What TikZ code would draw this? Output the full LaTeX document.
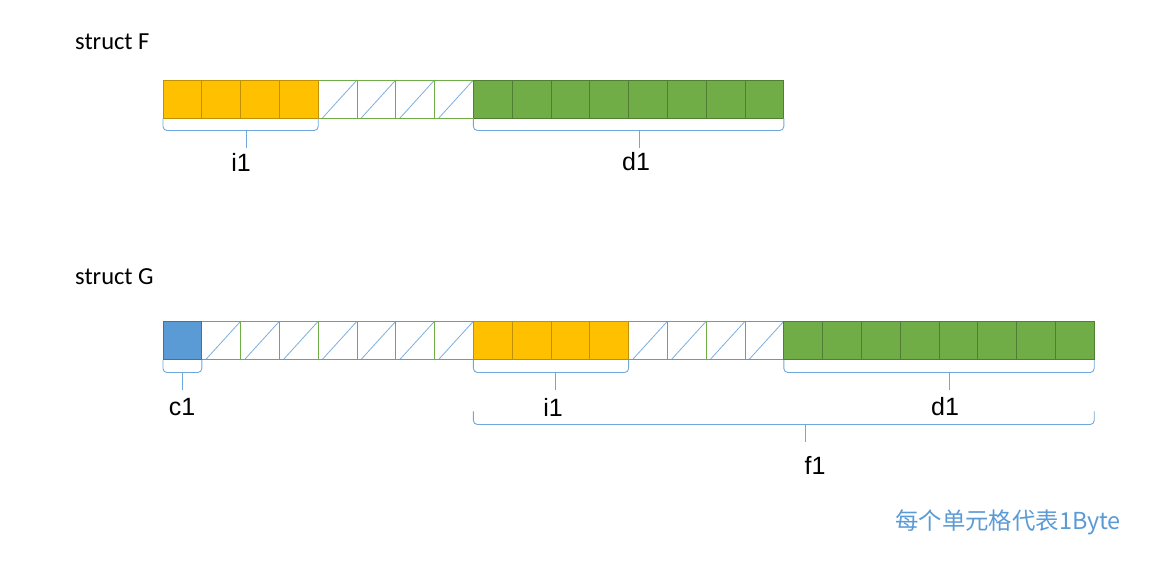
\documentclass[tikz,border=0pt]{standalone}
\usepackage{fontspec}
\setmainfont{Carlito}
\newfontfamily\labelfont{Liberation Sans}
\newfontfamily\cjkfont{Noto Sans CJK SC}
\usetikzlibrary{positioning,calc}

\definecolor{intfill}{HTML}{FFC000}
\definecolor{intline}{HTML}{BF9000}
\definecolor{dblfill}{HTML}{70AD47}
\definecolor{dblline}{HTML}{507E32}
\definecolor{chrfill}{HTML}{5B9BD5}
\definecolor{chrline}{HTML}{41719C}
\definecolor{bracecol}{HTML}{6FA8DC}
\definecolor{notecol}{HTML}{5B9BD5}

\begin{document}
\begin{tikzpicture}[x=1pt,y=-1pt,
  cell/.style={draw, minimum width=38.8pt, minimum height=38.5pt, inner sep=0pt, outer sep=0pt, line width=0.8pt},
  intcell/.style={cell, fill=intfill, draw=intline},
  dblcell/.style={cell, fill=dblfill, draw=dblline},
  chrcell/.style={cell, fill=chrfill, draw=chrline},
  padcell/.style={cell, fill=white, draw=dblfill,
    path picture={\draw[chrfill!80, line width=0.8pt] ([shift={(2pt,-2pt)}]path picture bounding box.south west) -- (path picture bounding box.north east);}},
  brace/.style={draw=bracecol, line width=0.9pt, rounded corners=4pt},
  fieldlabel/.style={font=\labelfont\fontsize{25}{25}\selectfont, inner sep=0pt},
  title/.style={font=\fontsize{24.5}{24.5}\selectfont, anchor=west, inner sep=0pt}]
\useasboundingbox (0,0) rectangle (1169,568);

% struct F
\node[title] (titleF) at (75,42) {struct F};
\foreach \i in {4,...,7} \node[padcell] (f\i) at ({182.4+38.8*\i},99.2) {};
\foreach \i in {0,...,3} \node[intcell] (f\i) at ({182.4+38.8*\i},99.2) {};
\foreach \i in {8,...,15} \node[dblcell] (f\i) at ({182.4+38.8*\i},99.2) {};

\coordinate (tipFi) at (246,130.5);
\coordinate (tipFd) at (639,130.5);
\draw[brace] (f0.south west) |- (tipFi) -| (f3.south east);
\draw[brace] (tipFi) -- ++(0,17);
\draw[brace] (f8.south west) |- (tipFd) -| (f15.south east);
\draw[brace] (tipFd) -- ++(0,17);
\node[fieldlabel] (labFi) at (241,162) {i1};
\node[fieldlabel] (labFd) at (636,162) {d1};

% struct G
\node[title] (titleG) at (75,277) {struct G};
\foreach \i in {1,...,7,12,13,14,15} \node[padcell] (g\i) at ({182.4+38.8*\i},340.5) {};
\node[chrcell] (g0) at (182.4,340.5) {};
\foreach \i in {8,...,11} \node[intcell] (g\i) at ({182.4+38.8*\i},340.5) {};
\foreach \i in {16,...,23} \node[dblcell] (g\i) at ({182.4+38.8*\i},340.5) {};

\coordinate (tipGc) at (182,372.5);
\coordinate (tipGi) at (555,372.5);
\coordinate (tipGd) at (949,372.5);
\coordinate (tipGf) at (805,424.5);
\draw[brace] (g0.south west) |- (tipGc) -| (g0.south east);
\draw[brace] (tipGc) -- ++(0,17);
\draw[brace] (g8.south west) |- (tipGi) -| (g11.south east);
\draw[brace] (tipGi) -- ++(0,17);
\draw[brace] (g16.south west) |- (tipGd) -| (g23.south east);
\draw[brace] (tipGd) -- ++(0,17);
\draw[brace] ($(g8.south west)+(0,51.5)$) |- (tipGf) -| ($(g23.south east)+(0,51.5)$);
\draw[brace] (tipGf) -- ++(0,17);
\node[fieldlabel] (labGc) at (182,407) {c1};
\node[fieldlabel] (labGi) at (553,407) {i1};
\node[fieldlabel] (labGd) at (945,407) {d1};
\node[fieldlabel] (labGf) at (815,465) {f1};

\node[anchor=east, inner sep=0pt, text=notecol, font=\cjkfont\fontsize{23.4}{23.4}\selectfont] (note) at (1121,522) {每个单元格代表1Byte};
\end{tikzpicture}
\end{document}
